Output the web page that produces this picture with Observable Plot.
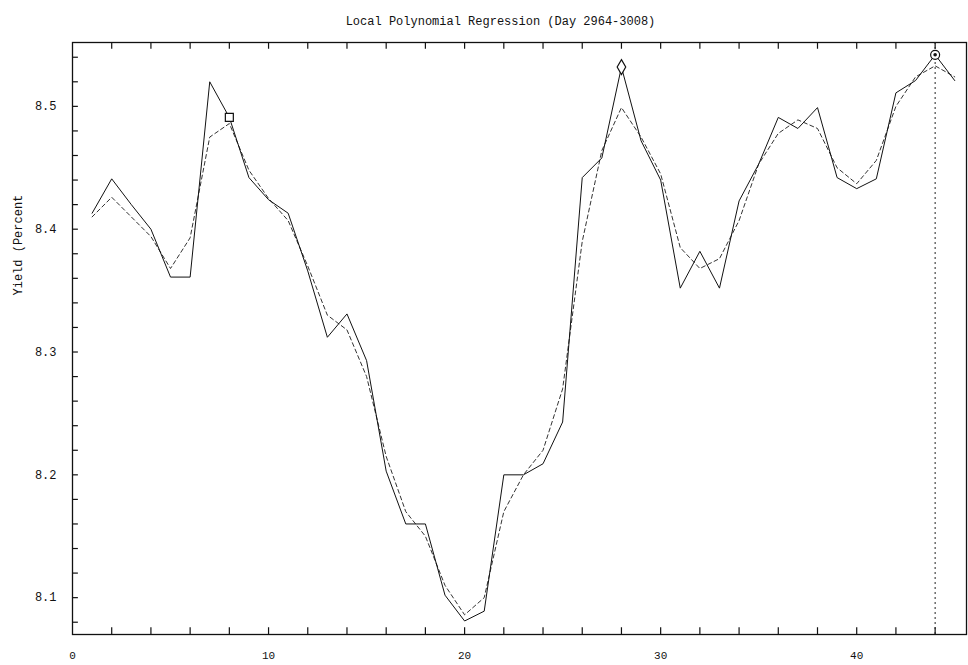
<!DOCTYPE html>
<html>
<head>
<meta charset="utf-8">
<script src="https://cdn.jsdelivr.net/npm/d3@7"></script>
<script src="https://cdn.jsdelivr.net/npm/@observablehq/plot@0.6"></script>
<style>
  body { margin: 0; background: #fff; }
  svg { font-family: "Liberation Mono", "DejaVu Sans Mono", monospace; }
</style>
</head>
<body>
<div id="chart"></div>
<script>
const titleText = "Local Polynomial Regression (Day 2964-3008)";
const yLabel = "Yield (Percent";
const days = [1,2,3,4,5,6,7,8,9,10,11,12,13,14,15,16,17,18,19,20,21,22,23,24,25,26,27,28,29,30,31,32,33,34,35,36,37,38,39,40,41,42,43,44,45];
const actual = [8.413,8.441,8.42,8.40,8.361,8.361,8.52,8.491,8.442,8.424,8.413,8.366,8.312,8.331,8.293,8.203,8.16,8.16,8.102,8.081,8.089,8.20,8.20,8.209,8.243,8.442,8.458,8.532,8.472,8.44,8.352,8.382,8.352,8.423,8.453,8.491,8.482,8.499,8.442,8.433,8.441,8.511,8.521,8.542,8.521];
const smoothed = [8.41,8.426,8.41,8.394,8.368,8.393,8.475,8.486,8.448,8.425,8.407,8.37,8.33,8.318,8.28,8.215,8.17,8.15,8.11,8.086,8.10,8.17,8.20,8.22,8.27,8.39,8.464,8.499,8.475,8.445,8.385,8.368,8.376,8.407,8.453,8.478,8.489,8.482,8.45,8.437,8.456,8.50,8.524,8.533,8.524];
const markerDays = [8, 28, 44];
const markerValues = [8.491, 8.532, 8.542];
const markerSymbols = ["square", "diamond", "circle"];
const selectedDay = [44];
const xTicks = [2,4,6,8,10,12,14,16,18,20,22,24,26,28,30,32,34,36,38,40,42,44];
const xLabels = [0,10,20,30,40];
const yTicks = [8.08,8.1,8.12,8.14,8.16,8.18,8.2,8.22,8.24,8.26,8.28,8.3,8.32,8.34,8.36,8.38,8.4,8.42,8.44,8.46,8.48,8.5,8.52,8.54];
const yLabels = [8.1,8.2,8.3,8.4,8.5];

const series = days.map((d, i) => ({day: d, actual: actual[i], smoothed: smoothed[i]}));
const markers = markerDays.map((d, i) => ({day: d, value: markerValues[i], symbol: markerSymbols[i]}));

const chart = Plot.plot({
  width: 968,
  height: 665,
  marginLeft: 72,
  marginRight: 2,
  marginTop: 42,
  marginBottom: 31,
  x: {domain: [0, 45.6], label: null},
  y: {domain: [8.07, 8.552], label: null},
  style: {fontFamily: "Liberation Mono, DejaVu Sans Mono, monospace", fontSize: "11px", color: "#111"},
  marks: [
    Plot.frame({stroke: "#111", strokeWidth: 1.3}),
    Plot.ruleX(xTicks, {x: d => d, y1: 8.07, y2: 8.0755, stroke: "#111", strokeWidth: 1.2}),
    Plot.ruleX(xTicks, {x: d => d, y1: 8.552, y2: 8.5465, stroke: "#111", strokeWidth: 1.2}),
    Plot.ruleY(yTicks, {y: d => d, x1: 0, x2: 0.3, stroke: "#111", strokeWidth: 1.2}),
    Plot.axisX({anchor: "bottom", ticks: xLabels, tickSize: 0, tickPadding: 17, fontSize: 11, label: null, fill: "#111"}),
    Plot.axisY({anchor: "left", ticks: yLabels, tickSize: 0, tickPadding: 16, tickFormat: d => d.toFixed(1), fontSize: 12, label: null, fill: "#111", style: {letterSpacing: "1px"}}),
    Plot.ruleX(selectedDay, {stroke: "#222", strokeWidth: 1, strokeDasharray: "2,3"}),
    Plot.line(series, {x: "day", y: "smoothed", stroke: "#333", strokeWidth: 1, strokeDasharray: "4,3"}),
    Plot.line(series, {x: "day", y: "actual", stroke: "#111", strokeWidth: 1}),
    Plot.dot(markers, {x: "day", y: "value", symbol: "symbol", r: 4.5, stroke: "#111", fill: "white", strokeWidth: 1.2}),
    Plot.dot(markers.filter(d => d.symbol === "circle"), {x: "day", y: "value", r: 1.8, fill: "#111"}),
    Plot.text([titleText], {frameAnchor: "top", dy: -26, dx: -19, fontSize: 12, fill: "#111", style: {letterSpacing: "1.8px"}}),
    Plot.text([yLabel], {frameAnchor: "left", rotate: -90, dx: -54, dy: -43, fontSize: 12, fill: "#111", style: {letterSpacing: "1.3px"}})
  ]
});
document.getElementById("chart").append(chart);
</script>
</body>
</html>
